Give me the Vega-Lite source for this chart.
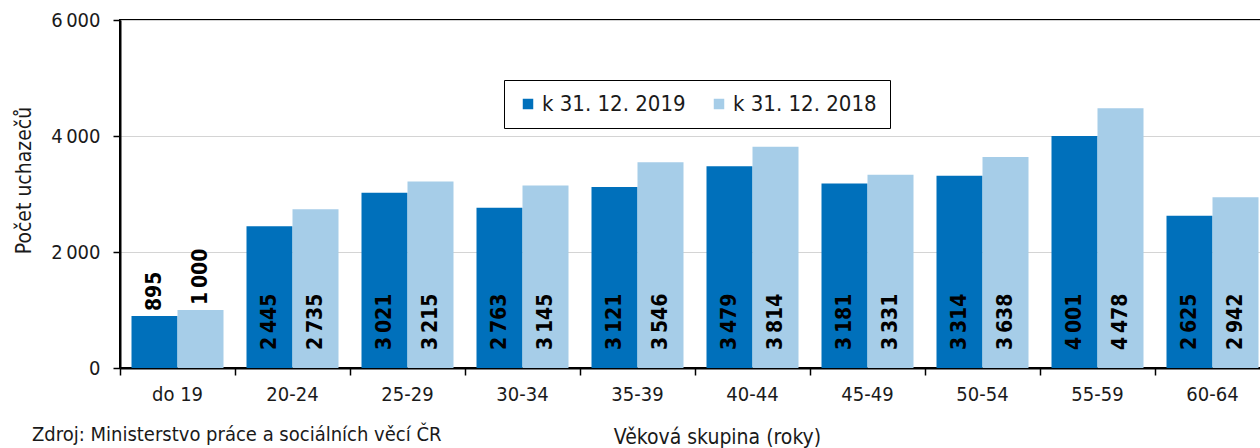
{
  "$schema": "https://vega.github.io/schema/vega-lite/v6.json",
  "autosize": {"type": "none"},
  "padding": {"left": 120, "top": 20, "right": 0, "bottom": 80},
  "width": 1150,
  "height": 348,
  "background": "white",
  "title": {
    "text": "Zdroj: Ministerstvo práce a sociálních věcí ČR",
    "orient": "bottom",
    "anchor": "start",
    "frame": "group",
    "dx": -88,
    "dy": -26,
    "font": "DejaVu Sans Condensed",
    "fontSize": 20,
    "fontWeight": "normal",
    "color": "#1a1a1a"
  },
  "data": {
    "values": [
      {"skupina": "do 19", "rok": "k 31. 12. 2019", "pocet": 895},
      {"skupina": "do 19", "rok": "k 31. 12. 2018", "pocet": 1000},
      {"skupina": "20-24", "rok": "k 31. 12. 2019", "pocet": 2445},
      {"skupina": "20-24", "rok": "k 31. 12. 2018", "pocet": 2735},
      {"skupina": "25-29", "rok": "k 31. 12. 2019", "pocet": 3021},
      {"skupina": "25-29", "rok": "k 31. 12. 2018", "pocet": 3215},
      {"skupina": "30-34", "rok": "k 31. 12. 2019", "pocet": 2763},
      {"skupina": "30-34", "rok": "k 31. 12. 2018", "pocet": 3145},
      {"skupina": "35-39", "rok": "k 31. 12. 2019", "pocet": 3121},
      {"skupina": "35-39", "rok": "k 31. 12. 2018", "pocet": 3546},
      {"skupina": "40-44", "rok": "k 31. 12. 2019", "pocet": 3479},
      {"skupina": "40-44", "rok": "k 31. 12. 2018", "pocet": 3814},
      {"skupina": "45-49", "rok": "k 31. 12. 2019", "pocet": 3181},
      {"skupina": "45-49", "rok": "k 31. 12. 2018", "pocet": 3331},
      {"skupina": "50-54", "rok": "k 31. 12. 2019", "pocet": 3314},
      {"skupina": "50-54", "rok": "k 31. 12. 2018", "pocet": 3638},
      {"skupina": "55-59", "rok": "k 31. 12. 2019", "pocet": 4001},
      {"skupina": "55-59", "rok": "k 31. 12. 2018", "pocet": 4478},
      {"skupina": "60-64", "rok": "k 31. 12. 2019", "pocet": 2625},
      {"skupina": "60-64", "rok": "k 31. 12. 2018", "pocet": 2942}
    ]
  },
  "encoding": {
    "x": {
      "field": "skupina",
      "type": "nominal",
      "sort": null,
      "scale": {"paddingInner": 0.2, "paddingOuter": 0.1},
      "axis": {
        "title": "Věková skupina (roky)",
        "titleX": 597,
        "titleY": 69,
        "titleBaseline": "middle",
        "titleFont": "DejaVu Sans Condensed",
        "titleFontSize": 21,
        "titleFontWeight": "normal",
        "titleColor": "#1a1a1a",
        "labelAngle": 0,
        "labelFont": "DejaVu Sans Condensed",
        "labelFontSize": 20,
        "labelColor": "#1a1a1a",
        "labelPadding": 9,
        "bandPosition": -0.125,
        "tickSize": 7,
        "tickColor": "black",
        "tickWidth": 1.5,
        "domainColor": "black",
        "domainWidth": 2,
        "grid": false
      }
    },
    "xOffset": {
      "field": "rok",
      "type": "nominal",
      "sort": ["k 31. 12. 2019", "k 31. 12. 2018"]
    }
  },
  "layer": [
    {
      "mark": {"type": "bar"},
      "encoding": {
        "y": {
          "field": "pocet",
          "type": "quantitative",
          "scale": {"domain": [0, 6000], "nice": false},
          "axis": {
            "title": "Počet uchazečů",
            "titleX": -96,
            "titleY": 160,
            "titleAngle": -90,
            "titleAlign": "center",
            "titleBaseline": "middle",
            "titleFont": "DejaVu Sans Condensed",
            "titleFontSize": 21,
            "titleFontWeight": "normal",
            "titleColor": "#1a1a1a",
            "values": [0, 2000, 4000, 6000],
            "format": ",d",
            "labelFont": "DejaVu Sans Condensed",
            "labelFontSize": 20,
            "labelColor": "#1a1a1a",
            "labelPadding": 13,
            "tickSize": 7,
            "tickColor": "black",
            "tickWidth": 1.5,
            "domainColor": "black",
            "domainWidth": 2,
            "grid": true,
            "gridColor": "#d4d4d4",
            "gridWidth": 1
          }
        },
        "color": {
          "field": "rok",
          "type": "nominal",
          "sort": ["k 31. 12. 2019", "k 31. 12. 2018"],
          "scale": {"domain": ["k 31. 12. 2019", "k 31. 12. 2018"], "range": ["#0070bb", "#a6cde8"]},
          "legend": {
            "title": null,
            "orient": "none",
            "legendX": 384,
            "legendY": 60,
            "direction": "horizontal",
            "symbolType": "square",
            "symbolSize": 110,
            "symbolStrokeWidth": 0,
            "labelFont": "DejaVu Sans Condensed",
            "labelFontSize": 22,
            "labelColor": "#1a1a1a",
            "labelOffset": 3,
            "columnPadding": 22,
            "padding": 13,
            "strokeColor": "black",
            "fillColor": "white",
            "offset": 0
          }
        }
      }
    },
    {
      "transform": [{"filter": "datum.pocet >= 1500"}],
      "mark": {
        "type": "text",
        "angle": 270,
        "align": "left",
        "baseline": "middle",
        "dx": 18,
        "font": "DejaVu Sans Condensed",
        "fontSize": 21,
        "fontWeight": "bold",
        "color": "black"
      },
      "encoding": {
        "y": {"datum": 0, "type": "quantitative"},
        "text": {"field": "pocet", "type": "quantitative", "format": ",d"}
      }
    },
    {
      "transform": [{"filter": "datum.pocet < 1500"}],
      "mark": {
        "type": "text",
        "angle": 270,
        "align": "left",
        "baseline": "middle",
        "dx": 5,
        "font": "DejaVu Sans Condensed",
        "fontSize": 21,
        "fontWeight": "bold",
        "color": "black"
      },
      "encoding": {
        "y": {"field": "pocet", "type": "quantitative"},
        "text": {"field": "pocet", "type": "quantitative", "format": ",d"}
      }
    }
  ],
  "config": {
    "locale": {
      "number": {"decimal": ",", "thousands": "\u2009", "grouping": [3], "currency": ["", ""]}
    },
    "view": {"stroke": "black", "strokeWidth": 2}
  }
}
